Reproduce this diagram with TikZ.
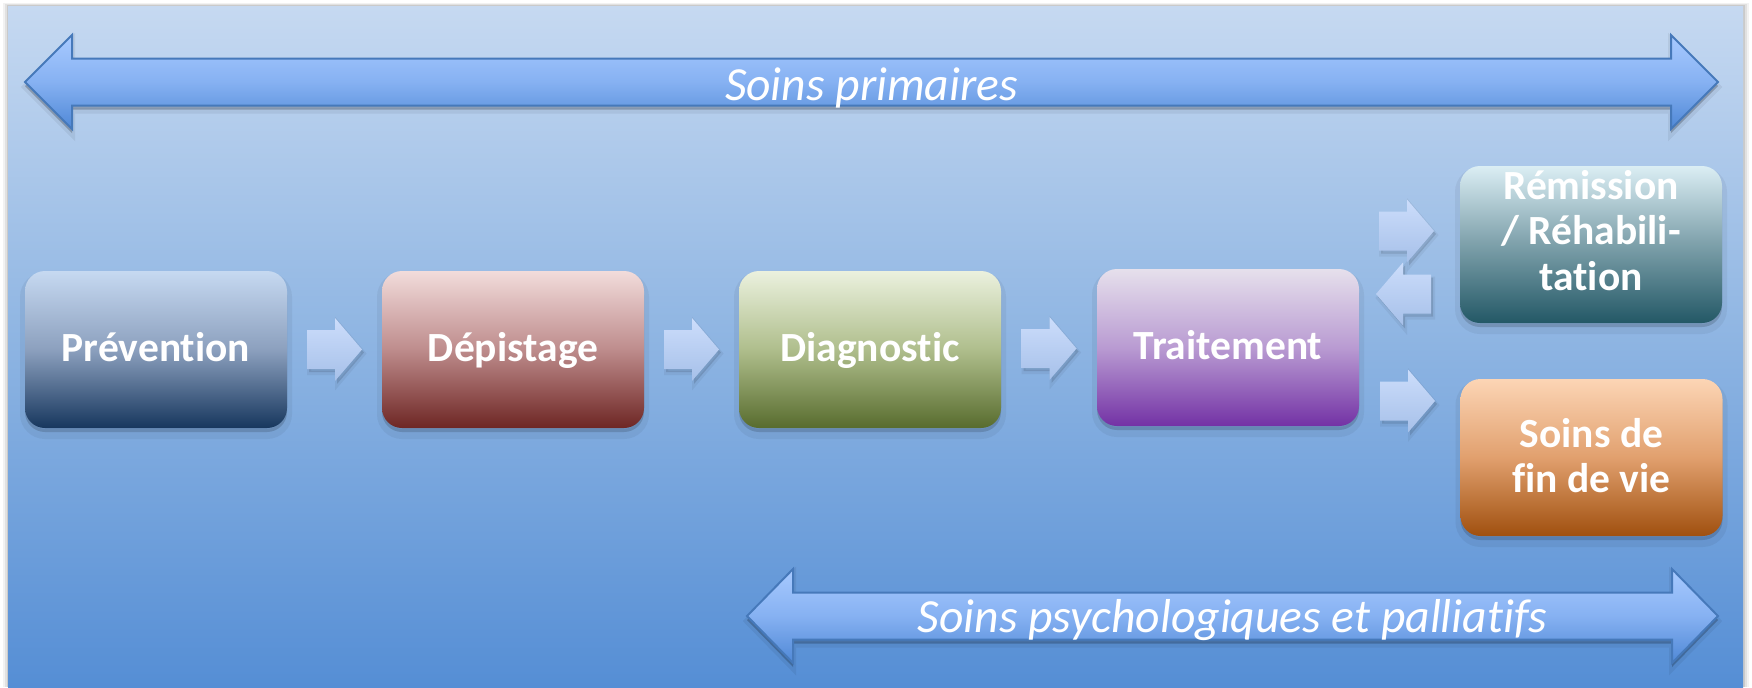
\documentclass[tikz,border=0pt]{standalone}
\usepackage{fontspec}
\setmainfont{Carlito}[Ligatures=NoCommon]
\usetikzlibrary{calc}

% panel
\definecolor{bgtop}{HTML}{C6D9F1}
\definecolor{bgmid}{HTML}{8DB4E2}
\definecolor{bgbot}{HTML}{558ED5}
% long double arrows
\definecolor{arrtop}{HTML}{A8CAFF}
\definecolor{arrmid}{HTML}{86B1F2}
\definecolor{arrbot}{HTML}{4F88D6}
\definecolor{arrline}{HTML}{4679BA}
% small chevron arrows
\definecolor{smtop}{HTML}{CCDDFB}
\definecolor{smbot}{HTML}{A6C0E9}
% stage boxes
\definecolor{prevtop}{HTML}{C6D9F1}\definecolor{prevmid}{HTML}{8CA0BE}\definecolor{prevbot}{HTML}{17375E}
\definecolor{deptop}{HTML}{F2DCDB}\definecolor{depmid}{HTML}{BE8C8C}\definecolor{depbot}{HTML}{6E2624}
\definecolor{diagtop}{HTML}{EBF1DE}\definecolor{diagmid}{HTML}{AFBE8C}\definecolor{diagbot}{HTML}{586C2E}
\definecolor{traittop}{HTML}{E6E0EC}\definecolor{traitmid}{HTML}{B99BD2}\definecolor{traitbot}{HTML}{7332A5}
\definecolor{remtop}{HTML}{DBEEF4}\definecolor{remmid}{HTML}{7DA0AA}\definecolor{rembot}{HTML}{235866}
\definecolor{fintop}{HTML}{FCD5B5}\definecolor{finmid}{HTML}{E1A06E}\definecolor{finbot}{HTML}{A0500F}

\tikzset{
  stepbox/.style={rounded corners=10pt, minimum width=131pt, minimum height=78.5pt,
    inner sep=0pt, text=white, font=\bfseries\fontsize{20.75}{22.75}\selectfont,
    text height=16pt, text depth=4.5pt,
    preaction={draw=black, line width=5pt, opacity=0.05, transform canvas={yshift=-3pt}},
    preaction={fill=black, opacity=0.15, transform canvas={yshift=-2pt}}},
  boxlabel/.style={text=white, font=\bfseries\fontsize{20.75}{22.75}\selectfont,
    inner sep=0pt, anchor=base},
  bigarrow/.style={draw=arrline, line width=1pt, line join=miter,
    top color=arrtop, bottom color=arrbot, middle color=arrmid,
    preaction={draw=black, line width=3pt, opacity=0.06, transform canvas={yshift=-2.5pt}},
    preaction={fill=black, opacity=0.22, transform canvas={yshift=-2pt}}},
  arrowtext/.style={text=white, font=\itshape\fontsize{23.8}{26}\selectfont,
    inner sep=0pt, anchor=base},
  chevron/.style={top color=smtop, bottom color=smbot,
    preaction={draw=black, line width=2pt, opacity=0.05, transform canvas={xshift=1pt,yshift=-2pt}},
    preaction={fill=black, opacity=0.12, transform canvas={xshift=1pt,yshift=-1.5pt}}}
}

% block chevrons pointing right / left, centred on a coordinate
\newcommand\chevR[1]{\path[chevron] (#1) ++(-27.5,-19.5) -- ++(28,0) -- ++(0,-12)
  -- ++(27,31.5) -- ++(-27,31.5) -- ++(0,-12) -- ++(-28,0) -- cycle;}
\newcommand\chevL[1]{\path[chevron] (#1) ++(27.5,-19.5) -- ++(-28,0) -- ++(0,-12)
  -- ++(-27,31.5) -- ++(27,31.5) -- ++(0,-12) -- ++(28,0) -- cycle;}

\begin{document}
\begin{tikzpicture}[x=0.5pt, y=-0.5pt]
\useasboundingbox (0,0) rectangle (1752,687);

% panel with a soft edge shadow
\fill[black, opacity=0.05] (3,3) rectangle (1749,687);
\fill[black, opacity=0.07] (5,4) rectangle (1747,687);
\fill[black, opacity=0.10] (7,5) rectangle (1745,687);
\shade[top color=bgtop, bottom color=bgbot, middle color=bgmid] (8,6) rectangle (1743,687);

% top double arrow
\coordinate (pL) at (25,82);
\coordinate (pR) at (1718,82);
\path[bigarrow] (pL) -- ++(47,-47) -- ++(0,23.5) -- ($(pR)+(-47,-23.5)$) -- ++(0,-23.5)
  -- (pR) -- ++(-47,47) -- ++(0,-23.5) -- ($(pL)+(47,23.5)$) -- ++(0,23.5) -- cycle;
\node[arrowtext] (primtxt) at ($(pL)!0.5!(pR)+(0,18)$) {Soins primaires};

% bottom double arrow
\coordinate (qL) at (747,616);
\coordinate (qR) at (1718,616);
\path[bigarrow] (qL) -- ++(46,-47) -- ++(0,23.5) -- ($(qR)+(-46,-23.5)$) -- ++(0,-23.5)
  -- (qR) -- ++(-46,47) -- ++(0,-23.5) -- ($(qL)+(46,23.5)$) -- ++(0,23.5) -- cycle;
\node[arrowtext] (palltxt) at ($(qL)!0.5!(qR)+(0,16)$) {Soins psychologiques et palliatifs};

% stages
\node[stepbox, top color=prevtop, bottom color=prevbot, middle color=prevmid]
  (prev) at (156,349.5) {Prévention};
\node[stepbox, top color=deptop, bottom color=depbot, middle color=depmid]
  (dep) at (513,349.5) {Dépistage};
\node[stepbox, top color=diagtop, bottom color=diagbot, middle color=diagmid]
  (diag) at (870,349.5) {Diagnostic};
\node[stepbox, top color=traittop, bottom color=traitbot, middle color=traitmid]
  (trait) at (1228,347.5) {Traitement};
\node[stepbox, top color=remtop, bottom color=rembot, middle color=remmid]
  (rem) at (1591,244.5) {};
\node[stepbox, top color=fintop, bottom color=finbot, middle color=finmid]
  (fin) at (1591.5,457.5) {};

\node[boxlabel] (rem1) at ($(rem.center)+(0,-45.5)$) {Rémission};
\node[boxlabel] (rem2) at (rem.center) {/ Réhabili-};
\node[boxlabel] (rem3) at ($(rem.center)+(0,45.5)$) {tation};
\node[boxlabel] (fin1) at ($(fin.center)+(0,-10.5)$) {Soins de};
\node[boxlabel] (fin2) at ($(fin.center)+(0,35)$) {fin de vie};

% chevrons between the stages
\coordinate (c1) at ($(prev.east)!0.5!(dep.west)$);
\coordinate (c2) at ($(dep.east)!0.5!(diag.west)$);
\coordinate (c3) at ($(diag.east)!0.5!(trait.west)$);
\coordinate (c4) at (1406.5,231);
\coordinate (c5) at (1403.5,294);
\coordinate (c6) at (1407.5,401);
\chevR{c1}
\chevR{c2}
\chevR{c3}
\chevR{c4}
\chevL{c5}
\chevR{c6}
\end{tikzpicture}
\end{document}
